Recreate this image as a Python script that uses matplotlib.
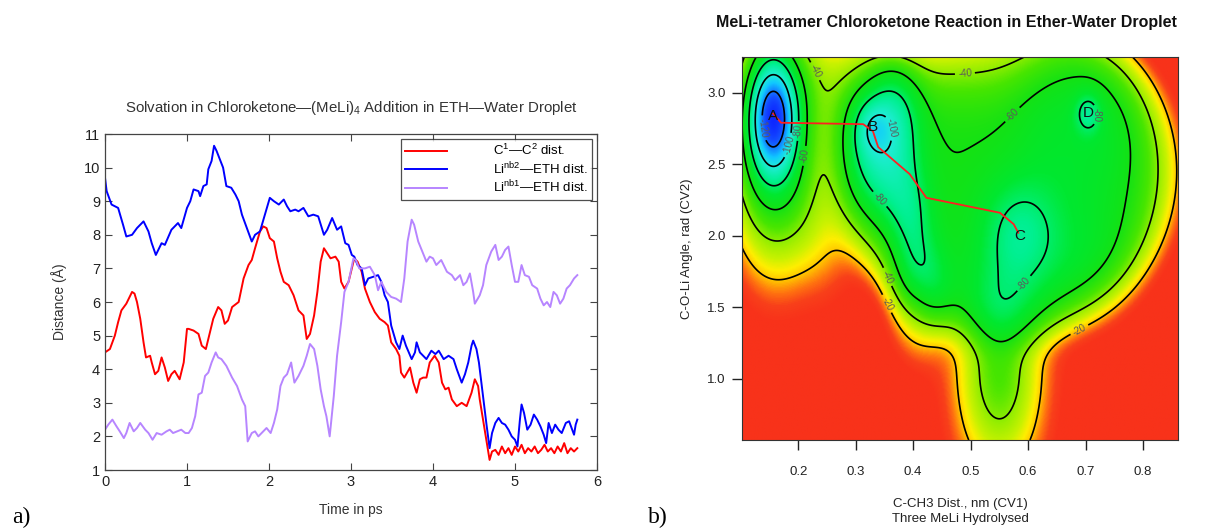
import numpy as np
import matplotlib
matplotlib.use("Agg")
import matplotlib.pyplot as plt
from matplotlib.colors import LinearSegmentedColormap

plt.rcParams['font.family'] = ['Liberation Sans', 'DejaVu Sans']
plt.rcParams['mathtext.fontset'] = 'custom'
plt.rcParams['mathtext.rm'] = 'Liberation Sans'
plt.rcParams['mathtext.it'] = 'Liberation Sans:italic'

# ---- panel a: distances vs time ----
t_red = [0.00, 0.06, 0.12, 0.16, 0.20, 0.26, 0.30, 0.33, 0.36, 0.39, 0.43, 0.47, 0.50, 0.55, 0.57,
         0.61, 0.65, 0.69, 0.73, 0.77, 0.81, 0.85, 0.91, 0.96, 1.00, 1.02, 1.08, 1.14, 1.18, 1.23,
         1.27, 1.32, 1.38, 1.42, 1.46, 1.50, 1.55, 1.63, 1.69, 1.75, 1.79, 1.83, 1.89, 1.93, 1.97,
         2.01, 2.06, 2.10, 2.14, 2.18, 2.24, 2.30, 2.36, 2.42, 2.46, 2.50, 2.55, 2.59, 2.63, 2.67,
         2.71, 2.75, 2.81, 2.85, 2.88, 2.92, 2.97, 3.01, 3.04, 3.08, 3.13, 3.17, 3.23, 3.29, 3.35,
         3.41, 3.45, 3.49, 3.55, 3.59, 3.61, 3.65, 3.72, 3.76, 3.80, 3.84, 3.88, 3.92, 3.96, 4.02,
         4.07, 4.11, 4.15, 4.19, 4.23, 4.29, 4.35, 4.41, 4.47, 4.51, 4.55, 4.57, 4.61, 4.65, 4.69,
         4.72, 4.76, 4.80, 4.84, 4.88, 4.92, 4.96, 5.00, 5.04, 5.08, 5.12, 5.16, 5.20, 5.24, 5.28,
         5.32, 5.36, 5.40, 5.44, 5.48, 5.52, 5.56, 5.60, 5.64, 5.68, 5.72, 5.76]
c1_c2 = [4.5, 4.6, 5.0, 5.4, 5.75, 5.95, 6.15, 6.3, 6.25, 6.0, 5.5, 4.8, 4.35, 4.4, 4.2,
         3.85, 3.95, 4.35, 4.05, 3.65, 3.85, 3.95, 3.7, 4.2, 5.2, 5.2, 5.15, 5.05, 4.7, 4.6,
         5.0, 5.5, 5.85, 5.75, 5.35, 5.45, 5.85, 6.0, 6.7, 7.1, 7.25, 7.6, 8.1, 8.25, 8.2,
         7.9, 7.8, 7.3, 6.9, 6.6, 6.5, 6.2, 5.75, 5.6, 4.9, 5.05, 5.6, 6.3, 7.2, 7.6,
         7.45, 7.3, 7.35, 7.2, 6.6, 6.4, 6.6, 7.0, 7.3, 7.2, 6.9, 6.4, 6.0, 5.7, 5.5,
         5.4, 5.3, 4.8, 4.6, 4.4, 3.9, 3.75, 4.05, 3.6, 3.3, 3.7, 3.75, 3.75, 4.2, 4.4,
         4.2, 3.6, 3.4, 3.45, 3.1, 2.9, 3.0, 2.9, 3.3, 3.7, 3.5, 3.1, 2.5, 1.9, 1.3,
         1.55, 1.6, 1.45, 1.7, 1.5, 1.65, 1.45, 1.7, 1.55, 1.75, 1.5, 1.65, 1.55, 1.7, 1.5,
         1.6, 1.75, 1.55, 1.65, 1.5, 1.7, 1.55, 1.8, 1.5, 1.65, 1.55, 1.65]

t_blue = [0.00, 0.02, 0.08, 0.16, 0.22, 0.26, 0.33, 0.39, 0.47, 0.53, 0.57, 0.62, 0.69, 0.73, 0.81,
          0.89, 0.93, 1.00, 1.04, 1.08, 1.14, 1.16, 1.20, 1.24, 1.26, 1.30, 1.33, 1.36, 1.40, 1.44,
          1.48, 1.54, 1.59, 1.63, 1.67, 1.73, 1.79, 1.83, 1.89, 1.95, 2.01, 2.06, 2.12, 2.18, 2.22,
          2.26, 2.32, 2.36, 2.42, 2.48, 2.54, 2.60, 2.67, 2.71, 2.77, 2.83, 2.88, 2.93, 2.97, 3.01,
          3.04, 3.08, 3.13, 3.17, 3.21, 3.27, 3.33, 3.37, 3.41, 3.45, 3.49, 3.55, 3.59, 3.63, 3.67,
          3.74, 3.78, 3.80, 3.84, 3.92, 3.98, 4.03, 4.07, 4.13, 4.19, 4.25, 4.29, 4.35, 4.39, 4.43,
          4.47, 4.49, 4.53, 4.56, 4.61, 4.65, 4.69, 4.72, 4.76, 4.80, 4.84, 4.88, 4.92, 4.96, 5.00,
          5.03, 5.06, 5.08, 5.11, 5.15, 5.19, 5.23, 5.27, 5.31, 5.35, 5.38, 5.41, 5.45, 5.49, 5.53,
          5.57, 5.62, 5.66, 5.69, 5.72, 5.74, 5.76]
linb2_eth = [9.7, 9.3, 8.9, 8.8, 8.3, 7.95, 8.0, 8.2, 8.4, 8.1, 7.75, 7.4, 7.75, 7.7, 8.15,
             8.35, 8.2, 8.8, 9.0, 9.35, 9.3, 9.15, 9.45, 9.5, 9.95, 10.2, 10.65, 10.5, 10.25, 10.0,
             9.45, 9.4, 9.2, 9.0, 8.6, 8.2, 7.8, 8.0, 8.1, 8.6, 9.1, 9.0, 8.9, 9.05, 8.85,
             8.7, 8.75, 8.7, 8.8, 8.55, 8.6, 8.55, 8.0, 8.15, 8.5, 8.15, 8.25, 7.75, 7.7, 7.4,
             7.35, 7.1, 7.0, 6.5, 6.7, 6.75, 6.8, 6.6, 6.2, 6.0, 5.3, 4.8, 4.6, 5.0, 4.7,
             4.3, 4.5, 4.8, 4.5, 4.3, 4.55, 4.45, 4.55, 4.3, 4.4, 4.3, 4.0, 3.6, 3.85, 4.2,
             4.7, 4.85, 4.6, 4.2, 3.2, 2.4, 1.65, 2.1, 2.4, 2.55, 2.4, 2.35, 2.2, 2.0, 1.9,
             1.7, 2.5, 2.95, 2.7, 2.2, 2.35, 2.65, 2.5, 2.3, 2.05, 1.8, 2.4, 2.1, 2.35, 2.2,
             2.1, 2.4, 2.45, 2.25, 2.05, 2.35, 2.5]

t_purple = [0.00, 0.04, 0.09, 0.14, 0.18, 0.23, 0.26, 0.30, 0.35, 0.39, 0.43, 0.49, 0.53, 0.58, 0.63,
            0.69, 0.75, 0.79, 0.83, 0.88, 0.93, 0.98, 1.02, 1.06, 1.10, 1.14, 1.18, 1.22, 1.26, 1.30,
            1.35, 1.38, 1.42, 1.48, 1.55, 1.61, 1.67, 1.71, 1.74, 1.79, 1.83, 1.87, 1.93, 1.97, 2.02,
            2.06, 2.10, 2.14, 2.18, 2.22, 2.27, 2.31, 2.36, 2.42, 2.46, 2.50, 2.55, 2.59, 2.63, 2.67,
            2.70, 2.74, 2.79, 2.83, 2.88, 2.92, 2.97, 3.03, 3.06, 3.10, 3.17, 3.23, 3.29, 3.33, 3.37,
            3.43, 3.49, 3.55, 3.61, 3.65, 3.69, 3.74, 3.77, 3.82, 3.87, 3.92, 3.96, 4.00, 4.04, 4.10,
            4.17, 4.23, 4.27, 4.33, 4.37, 4.41, 4.45, 4.49, 4.51, 4.57, 4.61, 4.65, 4.71, 4.76, 4.80,
            4.84, 4.88, 4.92, 4.96, 5.00, 5.04, 5.08, 5.12, 5.17, 5.21, 5.27, 5.31, 5.35, 5.39, 5.43,
            5.47, 5.51, 5.55, 5.59, 5.63, 5.67, 5.72, 5.76]
linb1_eth = [2.2, 2.35, 2.5, 2.3, 2.15, 1.95, 2.1, 2.4, 2.15, 2.25, 2.4, 2.2, 2.1, 1.9, 2.1,
             2.05, 2.15, 2.2, 2.1, 2.15, 2.2, 2.1, 2.1, 2.25, 2.6, 3.25, 3.3, 3.8, 3.9, 4.2,
             4.5, 4.35, 4.3, 4.1, 3.75, 3.5, 3.1, 2.9, 1.85, 2.1, 2.15, 2.0, 2.15, 2.25, 2.1,
             2.4, 2.8, 3.5, 3.75, 3.85, 4.2, 3.6, 3.8, 4.1, 4.4, 4.75, 4.6, 4.1, 3.4, 2.9,
             2.6, 2.0, 3.2, 4.4, 5.4, 6.3, 6.6, 7.3, 7.25, 7.0, 7.0, 7.05, 6.8, 6.35, 6.6,
             6.3, 6.15, 6.1, 6.0, 6.7, 7.8, 8.45, 8.3, 7.8, 7.5, 7.2, 7.35, 7.3, 7.1, 7.25,
             6.9, 6.8, 6.65, 6.8, 6.5, 6.6, 6.85, 6.3, 5.95, 6.2, 6.5, 7.1, 7.5, 7.7, 7.25,
             7.35, 7.55, 7.65, 7.1, 6.6, 6.6, 7.1, 6.8, 6.75, 6.5, 6.4, 6.1, 5.9, 6.0, 5.85,
             6.3, 6.2, 5.95, 6.1, 6.4, 6.5, 6.7, 6.8]

# ---- panel b: free energy surface as a sum of basins ----
# A core, A halo, A-B top saddle, B core, B lobe, tongue, lower-left lobe, body,
# top hill, right lobe, lower right, C, D, tail, bottom apron, A-B low saddle
well_x = [0.156, 0.158, 0.245, 0.330, 0.330, 0.395, 0.410, 0.565, 0.500, 0.690, 0.700, 0.585, 0.705, 0.550, 0.550, 0.250]
well_y = [2.83, 2.70, 3.15, 2.76, 2.85, 2.15, 1.55, 2.45, 3.45, 2.85, 1.80, 2.04, 2.86, 1.10, 0.55, 2.00]
well_depth = [70, 65, 12, 16, 44, 20, 26, 60, -32, 10, 10, 22, 19, 45, 15, 14]
well_sx = [0.030, 0.060, 0.035, 0.022, 0.055, 0.030, 0.040, 0.205, 0.130, 0.080, 0.070, 0.050, 0.016, 0.055, 0.055, 0.040]
well_sy = [0.30, 0.66, 0.25, 0.13, 0.50, 0.25, 0.30, 0.82, 0.30, 0.45, 0.35, 0.28, 0.10, 0.38, 0.30, 0.35]
well_p = [1.0, 1.3, 1.0, 1.0, 1.5, 1.0, 1.3, 4.0, 1.0, 1.5, 1.0, 1.0, 1.0, 1.0, 1.0, 1.0]
fes_levels = [-120, -100, -80, -60, -40, -20]

path_x = [0.156, 0.170, 0.313, 0.330, 0.339, 0.394, 0.423, 0.551, 0.575, 0.583]
path_y = [2.855, 2.79, 2.78, 2.73, 2.62, 2.43, 2.265, 2.16, 2.08, 2.02]
state_names = ['A', 'B', 'C', 'D']
state_x = [0.156, 0.33, 0.586, 0.705]
state_y = [2.84, 2.76, 2.0, 2.86]

fig = plt.figure(figsize=(12.11, 5.28), dpi=100)
W, H = 1211, 528

# panel a
ax1 = fig.add_axes([105 / W, 1 - 470 / H, (597 - 105) / W, (470 - 134) / H])
ax1.plot(t_red, c1_c2, color='#ff0000', lw=1.4, label=r'C$^{\rm 1}$—C$^{\rm 2}$ dist.')
ax1.plot(t_blue, linb2_eth, color='#0000ff', lw=1.4, label=r'Li$^{\rm nb2}$—ETH dist.')
ax1.plot(t_purple, linb1_eth, color='#b785ff', lw=1.4, label=r'Li$^{\rm nb1}$—ETH dist.')
ax1.set_xlim(0, 6)
ax1.set_ylim(1, 11)
ax1.set_xticks(range(0, 7))
ax1.set_yticks(range(1, 12))
ax1.tick_params(direction='in', top=True, right=True, length=5, labelsize=10.5,
                color='#444444', labelcolor='#222222')
for s in ax1.spines.values():
    s.set_color('#444444')
    s.set_linewidth(0.9)
ax1.set_xlabel('Time in ps', fontsize=10, color='#333333', labelpad=10)
ax1.set_ylabel('Distance (Å)', fontsize=10, color='#333333', labelpad=12)
ax1.set_title(r'Solvation in Chloroketone—(MeLi)$_{\rm 4}$ Addition in ETH—Water Droplet',
              fontsize=10.8, color='#333333', pad=16)
leg = ax1.legend(loc='upper right', fontsize=9.5, frameon=True, fancybox=False,
                 edgecolor='#222222', handlelength=3.2, borderaxespad=0.4,
                 labelspacing=0.15, handletextpad=3.5, borderpad=0.3)
leg.get_frame().set_linewidth(0.9)

# panel b
xs = np.linspace(0.102, 0.861, 400)
ys = np.linspace(0.57, 3.25, 400)
X, Y = np.meshgrid(xs, ys)
F = np.zeros_like(X)
for wx, wy, d, sx, sy, p in zip(well_x, well_y, well_depth, well_sx, well_sy, well_p):
    q = ((X - wx) / sx) ** 2 + ((Y - wy) / sy) ** 2
    F -= d * np.exp(-(q / 2) ** p)
F = np.minimum(F, 0)

stops = [(-140, '#0a14ff'), (-125, '#1450ff'), (-110, '#10c8ff'), (-100, '#20ecd8'),
         (-85, '#00f090'), (-72, '#00e830'), (-60, '#14e214'), (-48, '#48e600'),
         (-38, '#98ee00'), (-30, '#c8f200'), (-24, '#ffee00'), (-19, '#ffc000'),
         (-14, '#ff7010'), (-10, '#f8401a'), (-6, '#f8321a'), (0, '#f8321a')]
cmap = LinearSegmentedColormap.from_list('fes', [((v + 140) / 140, c) for v, c in stops])

ax2 = fig.add_axes([742 / W, 1 - 440 / H, (1178 - 742) / W, (440 - 57) / H])
ax2.imshow(F, extent=[xs[0], xs[-1], ys[0], ys[-1]], origin='lower', aspect='auto',
           cmap=cmap, vmin=-140, vmax=0, interpolation='bilinear')
cs = ax2.contour(X, Y, F, levels=fes_levels, colors='black', linewidths=1.2,
                 linestyles='solid')
ax2.clabel(cs, fmt='%d', fontsize=7, colors='#5a5a5a', inline=True, inline_spacing=3)
ax2.plot(path_x, path_y, color='#ff2020', lw=1.3)
for name, sx_, sy_ in zip(state_names, state_x, state_y):
    ax2.text(sx_, sy_, name, fontsize=11, ha='center', va='center', color='#111111')
ax2.set_xlim(0.102, 0.861)
ax2.set_ylim(0.57, 3.25)
ax2.set_xticks([0.2, 0.3, 0.4, 0.5, 0.6, 0.7, 0.8])
ax2.set_yticks([1.0, 1.5, 2.0, 2.5, 3.0])
ax2.tick_params(direction='out', length=7, width=1, labelsize=9.5,
                color='#222222', labelcolor='#222222')
ax2.tick_params(axis='x', pad=12)
ax2.tick_params(axis='y', pad=5)
for s in ax2.spines.values():
    s.set_color('#333333')
    s.set_linewidth(0.8)
ax2.set_xlabel('C-CH3 Dist., nm (CV1)\nThree MeLi Hydrolysed', fontsize=9.5,
               color='#222222', labelpad=14, linespacing=1.3)
ax2.set_ylabel('C-O-Li Angle, rad (CV2)', fontsize=9.5, color='#222222', labelpad=10)

fig.text(946 / W, 1 - 22 / H, 'MeLi-tetramer Chloroketone Reaction in Ether-Water Droplet',
         fontsize=11.5, fontweight='bold', ha='center', va='center', color='#111111')
fig.text(12 / W, 1 - 517 / H, 'a)', fontsize=17, family=['Liberation Serif', 'DejaVu Serif'],
         ha='left', va='center')
fig.text(648 / W, 1 - 517 / H, 'b)', fontsize=17, family=['Liberation Serif', 'DejaVu Serif'],
         ha='left', va='center')

fig.savefig('out.png', dpi=100)
